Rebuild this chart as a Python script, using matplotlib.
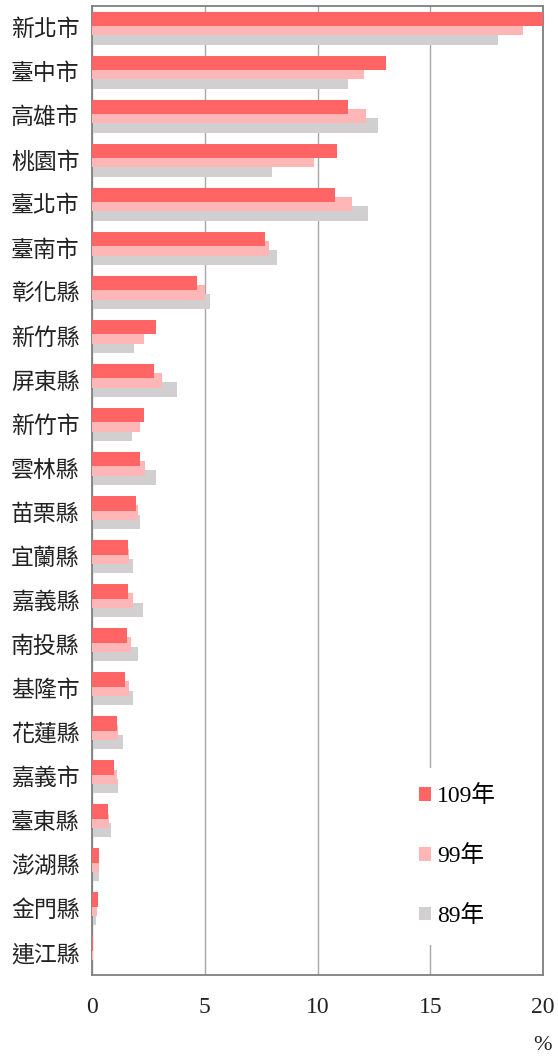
import matplotlib
matplotlib.use("Agg")
import matplotlib.pyplot as plt
import numpy as np

plt.rcParams['font.family'] = ['Liberation Serif', 'Noto Sans CJK TC', 'DejaVu Sans']

# 縣市別占比 (%)
縣市 = ["新北市", "臺中市", "高雄市", "桃園市", "臺北市", "臺南市", "彰化縣",
      "新竹縣", "屏東縣", "新竹市", "雲林縣", "苗栗縣", "宜蘭縣", "嘉義縣",
      "南投縣", "基隆市", "花蓮縣", "嘉義市", "臺東縣", "澎湖縣", "金門縣", "連江縣"]
年109 = [20.0, 13.05, 11.36, 10.88, 10.79, 7.68, 4.64,
         2.86, 2.77, 2.31, 2.12, 1.96, 1.60, 1.60,
         1.54, 1.47, 1.12, 0.96, 0.69, 0.33, 0.27, 0.06]
年99 = [19.13, 12.08, 12.15, 9.84, 11.55, 7.84, 5.02,
        2.30, 3.12, 2.14, 2.34, 2.06, 1.65, 1.84,
        1.74, 1.66, 1.17, 1.09, 0.77, 0.33, 0.21, 0.04]
年89 = [18.0, 11.36, 12.70, 7.99, 12.24, 8.21, 5.24,
        1.88, 3.77, 1.77, 2.82, 2.15, 1.84, 2.27,
        2.05, 1.81, 1.36, 1.17, 0.85, 0.30, 0.16, 0.03]
年別 = ["109年", "99年", "89年"]
顏色 = ["#FF6565", "#FFB6B6", "#D1CFCF"]

fig = plt.figure(figsize=(5.58, 10.57), dpi=100)
ax = fig.add_axes([92 / 558, 1 - 975 / 1057, (543 - 92) / 558, (975 - 6) / 1057])

y = np.arange(len(縣市))
alto = 0.33
desp = 0.21

# dibujar de atrás hacia adelante: 89, 99, 109
b89 = ax.barh(y + desp, 年89, height=alto, color=顏色[2], zorder=2)
b99 = ax.barh(y, 年99, height=alto, color=顏色[1], zorder=3)
b109 = ax.barh(y - desp, 年109, height=alto, color=顏色[0], zorder=4)

ax.set_xlim(0, 20)
ax.set_ylim(len(縣市) - 0.5, -0.5)
ax.set_xticks([0, 5, 10, 15, 20])
ax.set_yticks(y)
ax.set_yticklabels(縣市)
ax.tick_params(axis='both', length=0, colors="#222222")
ax.tick_params(axis='x', pad=16, labelsize=17)
ax.tick_params(axis='y', pad=9, labelsize=16.5)
ax.grid(True, axis='x', color="#A8A8A8", linewidth=1.0, zorder=1)
ax.set_axisbelow(True)
for lado in ax.spines.values():
    lado.set_color("#7F7F7F")
    lado.set_linewidth(1.3)

fig.text(543 / 558, 1 - 1045 / 1057, "%", ha='center', va='center', fontsize=16, color="#222222")

leg = ax.legend([b109, b99, b89], 年別, loc='upper left', bbox_to_anchor=(0.66, 0.226),
                frameon=True, fontsize=17, handlelength=0.5, handleheight=0.5,
                handletextpad=0.25, labelspacing=1.6, borderpad=0.75)
leg.get_frame().set_edgecolor("none")
leg.get_frame().set_facecolor("white")
leg.get_frame().set_alpha(1)

fig.savefig("out.png", dpi=100)
